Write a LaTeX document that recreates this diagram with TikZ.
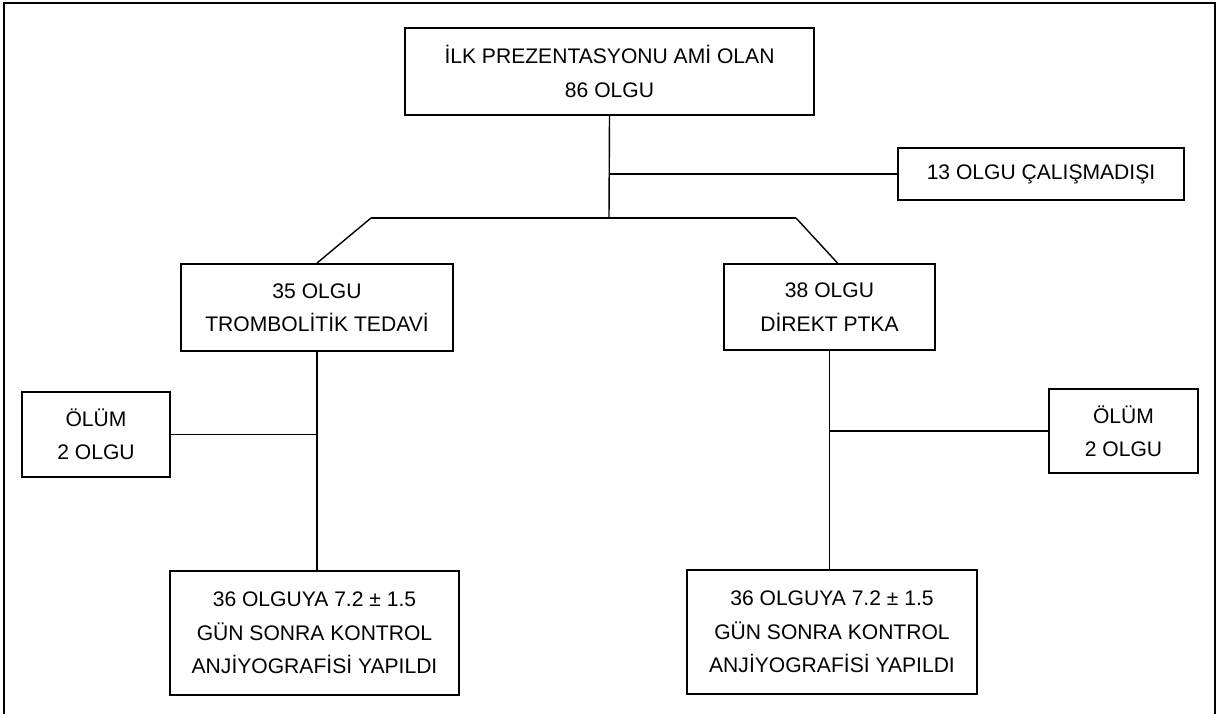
\documentclass[tikz,border=0pt]{standalone}
\usepackage{fontspec}
\setmainfont{Liberation Sans}
\begin{document}
\begin{tikzpicture}[x=0.02cm,y=-0.02cm,
    box/.style={draw,line width=1.1pt,align=center,inner sep=0pt,
        font=\fontsize{12}{19}\selectfont},
    link/.style={line width=0.8pt}]
 \useasboundingbox (0,0) rectangle (1225,714);
 \draw[line width=1pt] (4,714) -- (4,3) -- (1215,3) -- (1215,714);
 \node[box,minimum width=8.18cm,minimum height=1.74cm] (top) at (609.5,71.5)
    {İLK PREZENTASYONU AMİ OLAN\\86 OLGU};
 \node[box,minimum width=5.72cm,minimum height=1.04cm] (cal) at (1041,174)
    {13 OLGU ÇALIŞMADIŞI};
 \node[box,minimum width=5.44cm,minimum height=1.74cm] (tromb) at (317,307.5)
    {35 OLGU\\TROMBOLİTİK TEDAVİ};
 \node[box,minimum width=4.22cm,minimum height=1.72cm] (ptka) at (829.5,307)
    {38 OLGU\\DİREKT PTKA};
 \node[box,minimum width=2.96cm,minimum height=1.70cm] (olumL) at (96,434.5)
    {ÖLÜM\\2 OLGU};
 \node[box,minimum width=2.98cm,minimum height=1.68cm] (olumR) at (1123.5,431)
    {ÖLÜM\\2 OLGU};
 \node[box,minimum width=5.78cm,minimum height=2.48cm] (kontL) at (314.5,633)
    {36 OLGUYA 7.2 ± 1.5\\GÜN SONRA KONTROL\\ANJİYOGRAFİSİ YAPILDI};
 \node[box,minimum width=5.80cm,minimum height=2.48cm] (kontR) at (832,632)
    {36 OLGUYA 7.2 ± 1.5\\GÜN SONRA KONTROL\\ANJİYOGRAFİSİ YAPILDI};
 \coordinate (split) at (609,218);
 \coordinate (splitL) at (371,218);
 \coordinate (splitR) at (796,218);
 \draw[link] (top.south) -- (split);
 \draw[link] (top.south |- cal.west) -- (cal.west);
 \draw[link] (splitL) -- (splitR);
 \draw[link] (splitL) -- (tromb.north);
 \draw[link] (splitR) -- ([xshift=0.16cm]ptka.north);
 \draw[link] (tromb.south) -- (tromb.south |- kontL.north);
 \draw[link] (olumL.east) -- (olumL.east -| tromb.south);
 \draw[link] (ptka.south) -- (ptka.south |- kontR.north);
 \draw[link] (olumR.west) -- (olumR.west -| ptka.south);
\end{tikzpicture}
\end{document}
